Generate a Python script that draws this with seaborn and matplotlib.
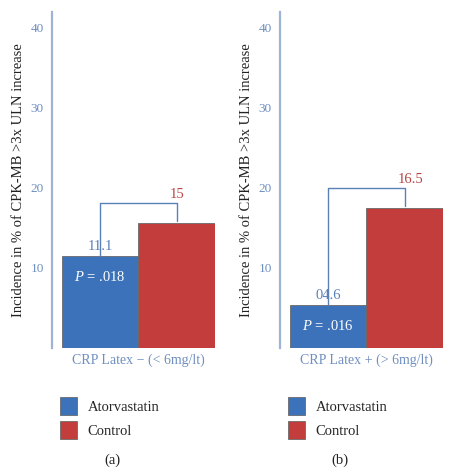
import matplotlib
matplotlib.use("Agg")
import matplotlib.pyplot as plt
import seaborn as sns
import pandas as pd

# ---------------- data ----------------
groups = ["CRP Latex \u2212 (< 6mg/lt)", "CRP Latex + (> 6mg/lt)"]
treatments = ["Atorvastatin", "Control"]
atorva = [11.5, 5.4]
control = [15.6, 17.5]
atorva_text = ["11.1", "04.6"]
control_text = ["15", "16.5"]
p_text = [".018", ".016"]
panel_tags = ["(a)", "(b)"]
yticks = [10, 20, 30, 40]

BLUE = "#3b72b9"
RED = "#c43d3d"
AXBLUE = "#6f8fbf"
LINEBLUE = "#5a80b8"

sns.set_style("white")
plt.rcParams["font.family"] = ["Liberation Serif", "DejaVu Serif"]
plt.rcParams["mathtext.fontset"] = "custom"
plt.rcParams["mathtext.it"] = "Liberation Serif:italic"
plt.rcParams["mathtext.rm"] = "Liberation Serif"

fig = plt.figure(figsize=(4.55, 4.76), dpi=100)
W, H = 455, 476
lefts = [52, 280]

for i, g in enumerate(groups):
    ax = fig.add_axes([lefts[i] / W, 1 - 348 / H, 163 / W, 336 / H])
    df = pd.DataFrame({"group": [g, g], "treatment": treatments,
                       "value": [atorva[i], control[i]]})
    sns.barplot(data=df, x="group", y="value", hue="treatment",
                palette=[BLUE, RED], width=0.8, ax=ax,
                edgecolor="#6a6a6a", linewidth=0.6, saturation=1)
    handles, labels = ax.get_legend_handles_labels()
    ax.get_legend().remove()

    ax.set_xlim(-0.452, 0.4)
    ax.set_ylim(0, 42)
    ax.set_yticks(yticks)
    ax.tick_params(axis="y", length=0, colors=AXBLUE, labelsize=9.5, pad=6)
    ax.tick_params(axis="x", length=0, colors=AXBLUE, labelsize=10, pad=4)
    ax.set_xlabel("")
    ax.set_ylabel("Incidence in % of CPK-MB >3x ULN increase", fontsize=10.5,
                  color="#222222", labelpad=4)
    for s in ["top", "right", "bottom"]:
        ax.spines[s].set_visible(False)
    ax.spines["left"].set_color("#9fb4d4")
    ax.spines["left"].set_linewidth(1.6)

    # bracket between the two bars
    xb, xr = -0.2, 0.2
    yb = control[i] + 2.5
    ax.plot([xb, xb, xr, xr], [atorva[i], yb, yb, control[i] + 0.3],
            color=LINEBLUE, lw=1)
    ax.text(xb, atorva[i] + 1.2, atorva_text[i], ha="center", va="center",
            color=LINEBLUE, fontsize=10.5)
    ax.text(xr + 0.01 * i * 3, yb + 1.1, control_text[i], ha="center",
            va="center", color="#b84545", fontsize=10.5)
    ax.text(xb, atorva[i] - 2.6, "$P$ = " + p_text[i], ha="center",
            va="center", color="white", fontsize=10.5)

    fig.legend(handles, labels, loc="upper left",
               bbox_to_anchor=(lefts[i] / W - 0.012, 1 - 384 / H),
               frameon=False, fontsize=10.5, handlelength=1.2,
               handleheight=1.5, handletextpad=0.7, labelspacing=0.45)
    fig.text((lefts[i] + 60) / W, 1 - 460 / H, panel_tags[i], ha="center",
             va="center", fontsize=10.5, color="#222222")

fig.savefig("out.png", dpi=100)
